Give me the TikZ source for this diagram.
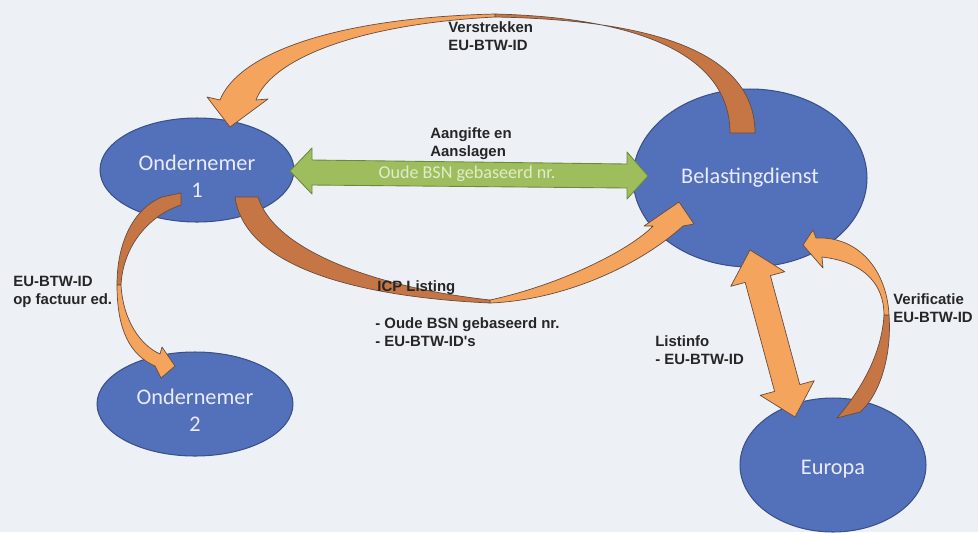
\documentclass[tikz,border=0pt]{standalone}
\usepackage{fontspec}
\setmainfont{Carlito}
\newfontfamily\lblfont{Liberation Sans}
\usetikzlibrary{shapes.geometric, calc}

\definecolor{bgcol}{RGB}{237,241,246}
\definecolor{blob}{RGB}{82,113,186}
\definecolor{blobline}{RGB}{58,80,138}
\definecolor{oranje}{RGB}{244,164,92}
\definecolor{bruin}{RGB}{198,118,68}
\definecolor{rand}{RGB}{105,76,62}
\definecolor{groen}{RGB}{158,190,94}
\definecolor{groenrand}{RGB}{108,136,60}
\definecolor{groentekst}{RGB}{224,235,204}

\tikzset{
  entity/.style={ellipse, draw=blobline, fill=blob, line width=0.6pt, inner sep=0pt,
    text=white!92!blue, align=center, font=\fontsize{12.7}{15.3}\selectfont},
  front/.style={fill=oranje, draw=rand, line width=0.4pt, line join=round},
  back/.style={fill=bruin, draw=rand, line width=0.4pt, line join=round},
  band/.style={fill=groen, draw=groenrand, line width=0.5pt, line join=round},
  lbl/.style={anchor=north west, inner sep=0pt, align=left, text=black!85,
    font=\lblfont\bfseries\fontsize{8.5}{10.2}\selectfont}
}

\begin{document}
\begin{tikzpicture}[x=0.02cm, y=-0.02cm]
    \useasboundingbox (0,0) rectangle (978,532);
    \clip (0,0) rectangle (978,532);
    \fill[bgcol] (0,0) rectangle (978,532);

    \node[entity, minimum width=3.88cm, minimum height=2.08cm] (ond1) at (197,170) {\rule{0pt}{16pt}Ondernemer\\1};
    \node[entity, minimum width=4.68cm, minimum height=3.56cm] (bd) at (750,178) {Belastingdienst};
    \node[entity, minimum width=3.92cm, minimum height=2.08cm] (ond2) at (195,404) {\rule{0pt}{16pt}Ondernemer\\2};
    \node[entity, minimum width=3.72cm, minimum height=2.68cm] (eu) at (833,465) {\rule{0pt}{13pt}Europa};

    % Verstrekken EU-BTW-ID
    \coordinate (vTop) at (495,14);
    \coordinate (vTip) at (230,127);
    \draw[back] (vTop) .. controls (650,18) and (730,60) .. (730,133) -- (755,133)
        .. controls (755,55) and (660,20) .. (495,17) -- cycle;
    \draw[front] (vTop) .. controls (330,18) and (238,55) .. (220,100) -- (207,97) -- (vTip)
        -- (268,99) -- (256,100) .. controls (272,58) and (360,24) .. (495,17) -- cycle;

    % ICP listing
    \coordinate (icpMid) at (490,303);
    \coordinate (icpTip) at (679,202);
    \draw[back] (235,197) .. controls (245,268) and (360,297) .. (icpMid) -- (490,300)
        .. controls (380,288) and (275,252) .. (258,197) -- cycle;
    \draw[front] (icpMid) .. controls (565,300) and (640,265) .. (683,226) -- (694,224) -- (icpTip)
        -- (644,226) -- (653,226) .. controls (630,250) and (560,285) .. (490,300) -- cycle;

    % factuur
    \coordinate (fMid) at (117,285);
    \coordinate (fTip) at (175,366);
    \draw[back] (162,197) -- (181,193) -- (181,205) .. controls (150,215) and (123,245) .. (121,285)
        -- (fMid) .. controls (117,240) and (135,208) .. (162,197) -- cycle;
    \draw[front] (fMid) .. controls (117,330) and (130,355) .. (155,366) -- (161,378) -- (fTip)
        -- (162,347) -- (160,354) .. controls (140,345) and (123,320) .. (121,285) -- cycle;

    % verificatie
    \coordinate (vfMid) at (884,315);
    \coordinate (vfTip) at (803,245);
    \draw[back] (837,418) .. controls (865,385) and (882,350) .. (vfMid) -- (889,315)
        .. controls (892,355) and (880,395) .. (860,412) -- cycle;
    \draw[front] (vfMid) .. controls (884,285) and (865,262) .. (822,257) -- (823,268) -- (vfTip)
        -- (813,230) -- (816,238) .. controls (860,236) and (887,272) .. (889,315) -- cycle;

    % listinfo
    \coordinate (liTop) at (750,250);
    \coordinate (liBot) at (795,417);
    \draw[front] (liTop) -- (784.8,271.7) -- (770.4,275.6) -- (799.8,384.6) -- (814.2,380.7)
        -- (liBot) -- (760.2,395.3) -- (774.6,391.4) -- (745.2,282.4) -- (730.8,286.3) -- cycle;

    % aangifte
    \coordinate (agL) at (290,171);
    \coordinate (agR) at (648,176);
    \draw[band] (agL) -- (312,148) -- (312,160) -- (627,164) -- (627,152) -- (agR)
        -- (627,199) -- (627,188) -- (312,185) -- (312,194) -- cycle;
    \node[text=groentekst, font=\fontsize{10.3}{12}\selectfont] (oudebsn) at (467,174) {Oude BSN gebaseerd nr.};

    \node[lbl] (verstr) at (448,21) {Verstrekken\\EU-BTW-ID};
    \node[lbl] (aangifte) at (430,127) {Aangifte en\\Aanslagen};
    \node[lbl] (icp) at (377,280) {ICP Listing};
    \node[lbl] (icpinfo) at (375,317) {- Oude BSN gebaseerd nr.\\- EU-BTW-ID's};
    \node[lbl] (factuur) at (13,276) {EU-BTW-ID\\op factuur ed.};
    \node[lbl] (listinfo) at (655,335) {Listinfo\\- EU-BTW-ID};
    \node[lbl] (verif) at (893,293) {Verificatie\\EU-BTW-ID};
\end{tikzpicture}
\end{document}
